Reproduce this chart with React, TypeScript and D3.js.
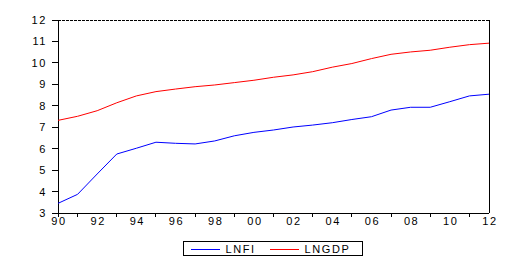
import React from "react";
import * as d3 from "d3";

const years = d3.range(1990, 2013);
const lnfi = [3.45, 3.87, 4.82, 5.75, 6.02, 6.3, 6.25, 6.22, 6.36, 6.6, 6.76, 6.87, 7.01, 7.1, 7.21, 7.36, 7.49, 7.8, 7.93, 7.93, 8.19, 8.46, 8.54];
const lngdp = [7.32, 7.51, 7.77, 8.14, 8.46, 8.66, 8.78, 8.89, 8.97, 9.08, 9.19, 9.33, 9.44, 9.59, 9.8, 9.97, 10.2, 10.4, 10.51, 10.59, 10.73, 10.85, 10.92];
const yTicks = [3, 4, 5, 6, 7, 8, 9, 10, 11, 12];
const xLabelYears = d3.range(1990, 2013, 2);
const xMinorYears = d3.range(1991, 2012, 2);
const seriesNames = ["LNFI", "LNGDP"];
const seriesColors = ["#0000ff", "#ff0000"];

export default function App() {
  const W = 527, H = 275;
  const left = 58, right = 489, top = 20, bottom = 213;
  const x = d3.scaleLinear().domain([1990, 2012]).range([left, right]);
  const y = d3.scaleLinear().domain([3, 12]).range([bottom, top]);
  const line = d3.line<number>().x((_, i) => x(years[i])).y((d) => y(d));
  const font = { fontFamily: "Liberation Sans, Arial, sans-serif", fontSize: 11, letterSpacing: 1.6 } as const;

  return (
    <svg width={W} height={H} style={{ position: "absolute", left: 0, top: 0, background: "#fff" }}>
      <rect x={0} y={0} width={W} height={H} fill="#fff" />
      <g shapeRendering="crispEdges" stroke="#000">
        <line x1={left} x2={right} y1={top} y2={top} strokeDasharray="3,1" />
        <line x1={right} x2={right} y1={top} y2={bottom} />
        <line x1={left} x2={left} y1={top} y2={bottom + 4} />
        <line x1={left} x2={right} y1={bottom} y2={bottom} />
        {yTicks.map((t) => (
          <line key={t} x1={left - 6} x2={left} y1={y(t)} y2={y(t)} />
        ))}
        {xMinorYears.map((t) => (
          <line key={t} x1={x(t)} x2={x(t)} y1={bottom} y2={bottom + 4} />
        ))}
      </g>
      <g {...font} fill="#000">
        {yTicks.map((t) => (
          <text key={t} x={47} y={y(t) + 4} textAnchor="end">{t}</text>
        ))}
        {xLabelYears.map((t) => (
          <text key={t} x={x(t) + 1} y={225} textAnchor="middle">{String(t % 100).padStart(2, "0")}</text>
        ))}
      </g>
      <path d={line(lnfi) || ""} fill="none" stroke={seriesColors[0]} strokeWidth={1} />
      <path d={line(lngdp) || ""} fill="none" stroke={seriesColors[1]} strokeWidth={1} />
      <g>
        <rect x={183.5} y={241.5} width={179} height={14} fill="#fff" stroke="#000" shapeRendering="crispEdges" />
        <line x1={191} x2={220} y1={249} y2={249} stroke={seriesColors[0]} shapeRendering="crispEdges" />
        <text x={225.5} y={253} {...font}>{seriesNames[0]}</text>
        <line x1={270} x2={299} y1={249} y2={249} stroke={seriesColors[1]} shapeRendering="crispEdges" />
        <text x={304.5} y={253} {...font}>{seriesNames[1]}</text>
      </g>
    </svg>
  );
}
